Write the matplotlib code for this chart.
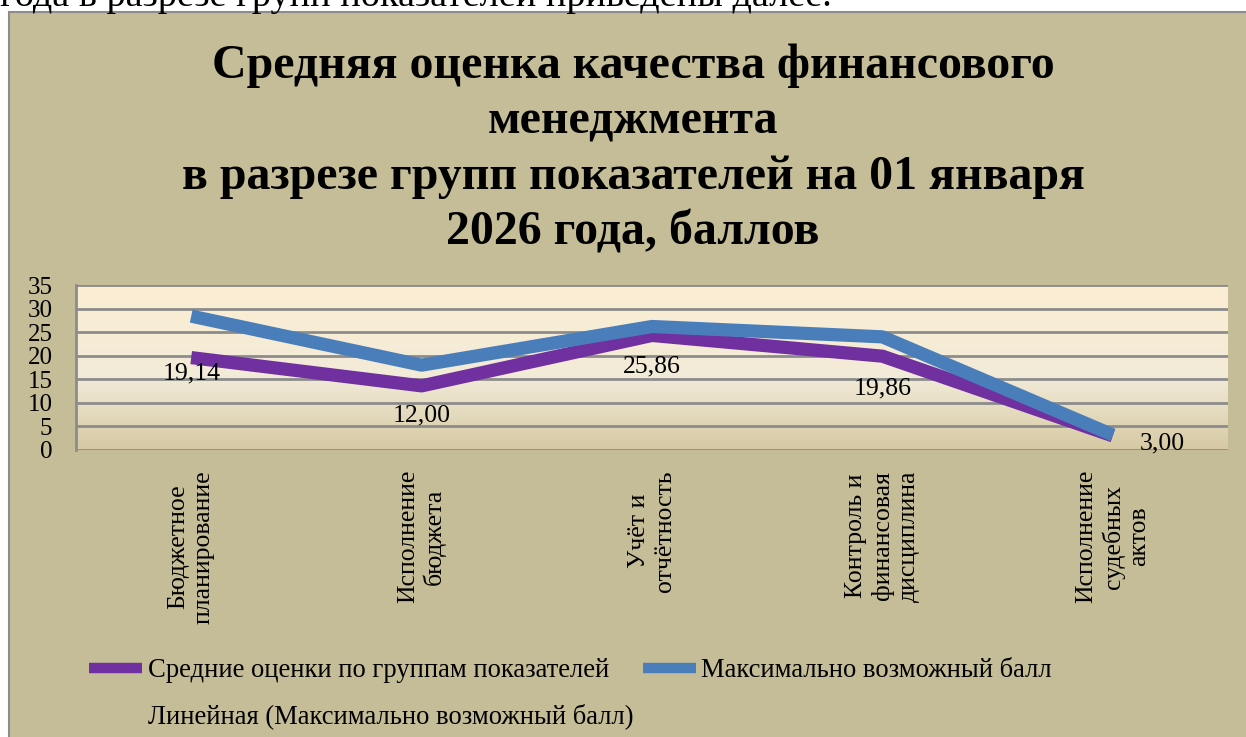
import numpy as np
import matplotlib.pyplot as plt
from matplotlib.patches import Rectangle
from matplotlib.lines import Line2D
from matplotlib.transforms import ScaledTranslation

plt.rcParams['font.family'] = ['Liberation Serif', 'DejaVu Serif']

categories = ["Бюджетное\nпланирование", "Исполнение\nбюджета", "Учёт и\nотчётность",
              "Контроль и\nфинансовая\nдисциплина", "Исполнение\nсудебных\nактов"]
avg_scores = [19.6, 13.6, 24.3, 19.9, 3.0]
max_scores = [28.4, 18.0, 26.2, 24.0, 3.2]
avg_labels = ["19,14", "12,00", "25,86", "19,86", "3,00"]
label_offsets = [(0, -16), (0, -30), (0, -31), (0, -32), (50, -8)]  # pixels
yticks = [0, 5, 10, 15, 20, 25, 30, 35]

W, H = 1246, 737
fig = plt.figure(figsize=(W / 100, H / 100), dpi=100)
fig.patch.set_facecolor('white')

# chart frame
fig.patches.append(Rectangle((9 / W, -0.01), 1.0, 1 - 12 / H + 0.01, transform=fig.transFigure,
                             facecolor='#C4BD97', edgecolor='#8C8C8C', lw=1.5, zorder=-5))

# page text cut off at the top
fig.text(0.0, 1 - 6 / H, "года в разрезе групп показателей приведены далее.",
         fontsize=27.5, va='baseline', ha='left')

fig.text(633 / W, 1 - 44 / H,
         "Средняя оценка качества финансового\nменеджмента\nв разрезе групп показателей на 01 января\n2026 года, баллов",
         fontsize=34.5, fontweight='bold', ha='center', va='top', linespacing=1.33)

ax = fig.add_axes([76 / W, 1 - 450 / H, (1228 - 76) / W, (450 - 285) / H])
x = np.arange(len(categories))
ax.set_xlim(-0.5, len(categories) - 0.5)
ax.set_ylim(0, 35)

# gradient fill of the plot area
top = np.array([252, 238, 211]) / 255
mid = np.array([242, 235, 217]) / 255
bot = np.array([214, 201, 163]) / 255
t = np.linspace(0, 1, 200)[:, None]
grad = np.where(t < 0.55, top + (mid - top) * (t / 0.55), mid + (bot - mid) * ((t - 0.55) / 0.45))
ax.imshow(grad[:, None, :].repeat(2, axis=1), extent=[-0.5, 4.5, 0, 35], aspect='auto', zorder=0)

for y in yticks:
    ax.axhline(y, color='#8C8C8C', lw=2, zorder=1)

l1, = ax.plot(x, avg_scores, color='#7030A0', lw=9.5, solid_capstyle='butt', zorder=3)
l2, = ax.plot(x, max_scores, color='#4A7EBB', lw=9.5, solid_capstyle='butt', zorder=4)

for xi, v, s, off in zip(x, avg_scores, avg_labels, label_offsets):
    ax.annotate(s, (xi, v), xytext=(off[0] * 0.72, off[1] * 0.72), textcoords='offset points',
                ha='center', va='center', fontsize=18.5, zorder=5)

for sp in ['top', 'right', 'bottom']:
    ax.spines[sp].set_visible(False)
ax.spines['left'].set_color('#8C8C8C')
ax.spines['left'].set_linewidth(2)

ax.set_yticks(yticks)
ax.set_yticklabels([str(v) for v in yticks], fontsize=18)
ax.tick_params(axis='y', length=0, pad=17)
ax.set_xticks([])

shift = ScaledTranslation(0, -20 / 100, fig.dpi_scale_trans)
for xi, c in zip(x, categories):
    ax.text(xi, 0, c, transform=ax.transData + shift, rotation=90, ha='center', va='top',
            multialignment='center', fontsize=18.5, linespacing=1.2)

trend = Line2D([], [], color='none', lw=0)
leg = fig.legend([l1, trend, l2],
                 ["Средние оценки по группам показателей", "Линейная (Максимально возможный балл)",
                  "Максимально возможный балл"],
                 ncol=2, loc='upper left', bbox_to_anchor=(65 / W, 1 - 634 / H), frameon=False,
                 fontsize=19.2, handlelength=2.0, handletextpad=0.2, columnspacing=0.35,
                 labelspacing=0.75)
for h in leg.legend_handles:
    h.set_linewidth(7.5)

fig.savefig('out.png', dpi=100)
